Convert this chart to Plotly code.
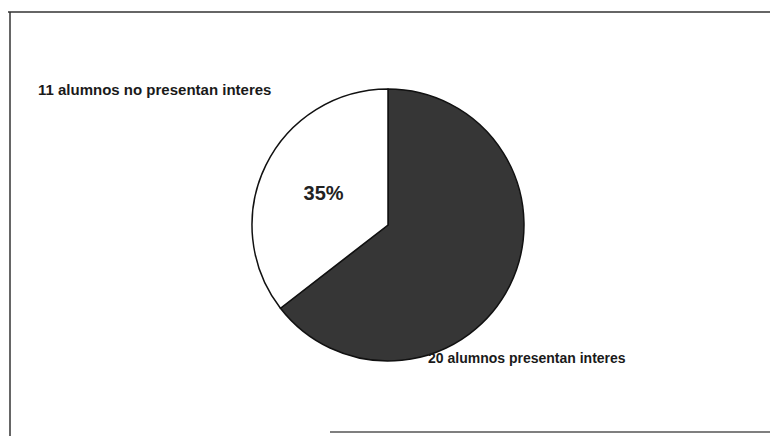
import plotly.graph_objects as go

labels = ["20 alumnos presentan interes", "11 alumnos no presentan interes"]
values = [20, 11]
colors = ["#363636", "#ffffff"]
label_text = ["", "%{percent:.0%}"]

W, H = 770, 436
cx, cy, r = 388, 225, 136

fig = go.Figure(go.Pie(
    labels=labels,
    values=values,
    sort=False,
    direction="clockwise",
    rotation=0,
    marker=dict(colors=colors, line=dict(color="#111111", width=1.5)),
    texttemplate=label_text,
    textposition="inside",
    insidetextorientation="horizontal",
    textfont=dict(family="Liberation Sans, Arial", size=20, color="#222222", weight="bold"),
    showlegend=False,
    hoverinfo="label+value+percent",
    domain=dict(x=[(cx - r) / W, (cx + r) / W], y=[(H - cy - r) / H, (H - cy + r) / H]),
))

fig.add_annotation(text=labels[1], x=36 / W, y=1 - 89 / H, xref="paper", yref="paper",
                   xanchor="left", yanchor="middle", showarrow=False,
                   font=dict(family="Liberation Sans, Arial", size=15, color="#1a1a1a", weight="bold"))
fig.add_annotation(text=labels[0], x=426 / W, y=1 - 358 / H, xref="paper", yref="paper",
                   xanchor="left", yanchor="middle", showarrow=False,
                   font=dict(family="Liberation Sans, Arial", size=14, color="#1a1a1a", weight="bold"))

# frame lines
fig.add_shape(type="line", xref="paper", yref="paper", x0=8 / W, x1=1, y0=1 - 12 / H, y1=1 - 12 / H,
              line=dict(color="#333333", width=1.5))
fig.add_shape(type="line", xref="paper", yref="paper", x0=10 / W, x1=10 / W, y0=1 - 12 / H, y1=0,
              line=dict(color="#333333", width=1.5))
fig.add_shape(type="line", xref="paper", yref="paper", x0=330 / W, x1=1, y0=1 - 432 / H, y1=1 - 432 / H,
              line=dict(color="#555555", width=1.3))

fig.update_layout(
    width=W, height=H,
    margin=dict(l=0, r=0, t=0, b=0),
    paper_bgcolor="white", plot_bgcolor="white",
)
fig.write_html("out.html", config={"displayModeBar": False},
               post_script="document.body.style.margin='0';document.body.style.overflow='hidden';")
